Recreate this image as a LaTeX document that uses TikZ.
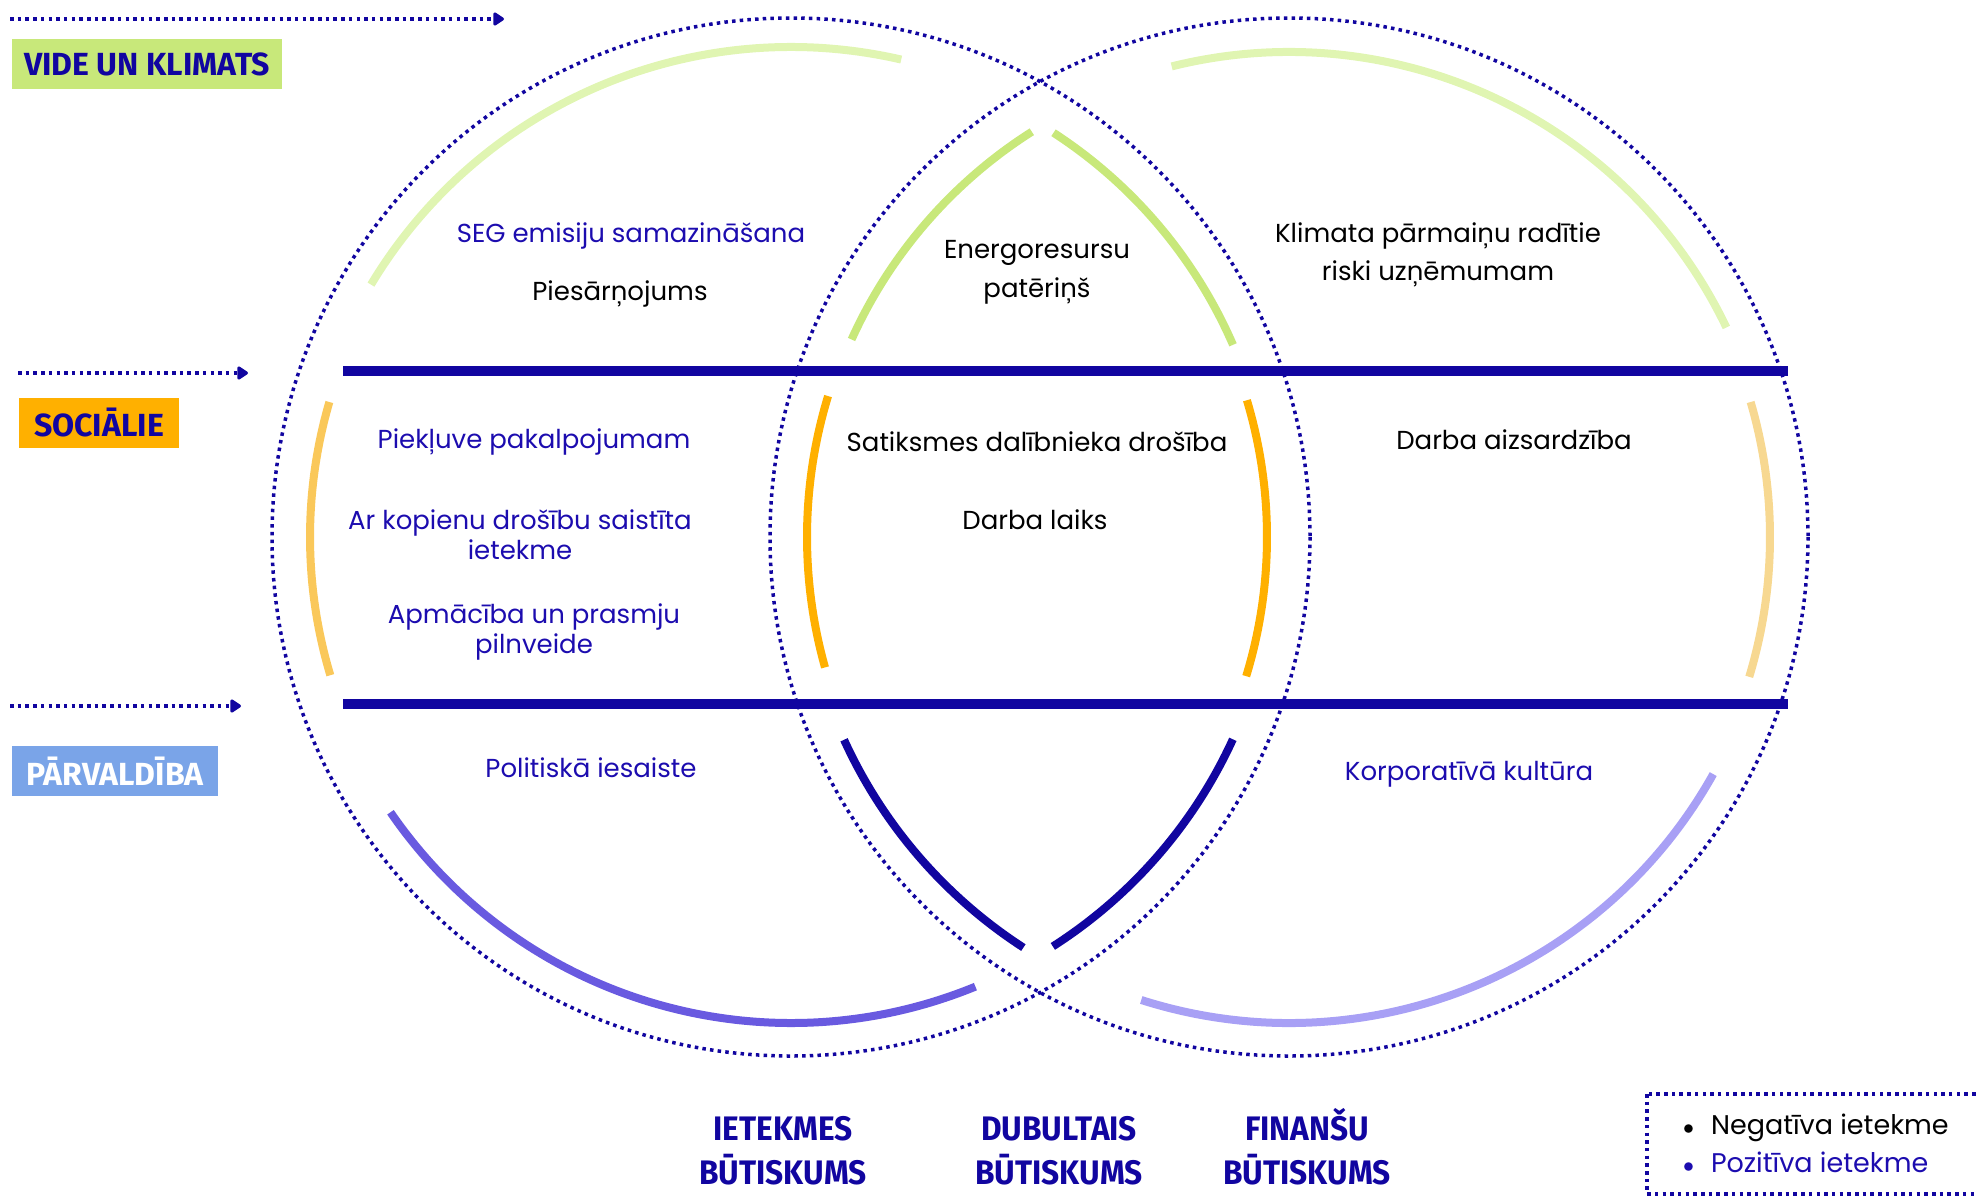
\documentclass[tikz,border=0pt]{standalone}
\usepackage{fontspec}
\setmainfont{Poppins}
\newfontfamily\headfont{Fira Sans}
\newfontfamily\footfont[FakeStretch=0.93]{Fira Sans}
\usetikzlibrary{arrows.meta}
\definecolor{navy}{RGB}{17,5,160}
\definecolor{textblue}{RGB}{28,12,175}
\definecolor{palegreen}{RGB}{224,245,178}
\definecolor{limegreen}{RGB}{200,232,122}
\definecolor{amber}{RGB}{255,176,0}
\definecolor{paleamber}{RGB}{250,200,90}
\definecolor{sandamber}{RGB}{247,216,145}
\definecolor{iris}{RGB}{105,90,224}
\definecolor{paleiris}{RGB}{168,160,245}
\definecolor{skyblue}{RGB}{122,164,232}

\begin{document}
\begin{tikzpicture}[x=0.5pt,y=-0.5pt,
  dots/.style={navy,line width=1.75pt,dash pattern=on 1.75pt off 2.1pt},
  pointer/.style={dots,-{Triangle[length=6pt,width=7.5pt,round]}},
  band/.style={line width=4pt},
  bar/.style={navy,line width=5pt},
  tag/.style={font=\headfont\bfseries\fontsize{16}{16}\selectfont,inner sep=0pt,minimum height=25pt},
  item/.style={font=\fontsize{13}{15}\selectfont,align=center},
  goodfx/.style={item,textblue},
  badfx/.style={item,black},
  footer/.style={font=\footfont\bfseries\fontsize{17}{22}\selectfont,navy,align=center,anchor=base}]
\useasboundingbox (0,0) rectangle (1976,1195);

\coordinate (L) at (791,537);
\coordinate (R) at (1289,537);
\draw[dots] (L) circle[radius=519];
\draw[dots] (R) circle[radius=519];

\foreach \c/\a/\b/\r/\col in {
    L/-77/-149/490/palegreen, L/-163.7/-196.7/481/paleamber, L/-214.5/-292.3/486/iris,
    L/-23.5/-57/482/limegreen, L/17/-16.7/476/amber, L/57.4/24.6/486/navy,
    R/-25.6/-104/485/palegreen, R/16.9/-16.3/481/sandamber, R/107.7/29.2/486/paleiris,
    R/-122.4/-155.7/480/limegreen, R/-163/-195.7/482/amber, R/-204.5/-237.1/489/navy}
  \draw[band,\col] (\c) ++(\a:\r) arc[start angle=\a,end angle=\b,radius=\r];

\coordinate (bar1w) at (343,371);
\coordinate (bar1e) at (1788,371);
\coordinate (bar2w) at (343,704);
\coordinate (bar2e) at (1788,704);
\draw[bar] (bar1w) -- (bar1e);
\draw[bar] (bar2w) -- (bar2e);

\coordinate (env0) at (10,19);
\coordinate (env1) at (504,19);
\coordinate (soc0) at (18,373);
\coordinate (soc1) at (248,373);
\coordinate (gov0) at (10,706);
\coordinate (gov1) at (241,706);
\draw[pointer] (env0) -- (env1);
\draw[pointer] (soc0) -- (soc1);
\draw[pointer] (gov0) -- (gov1);

\node[tag,fill=limegreen,text=navy,minimum width=135pt] (env) at (147,64) {VIDE UN KLIMATS};
\node[tag,fill=amber,text=navy,minimum width=80pt] (soc) at (99,423) {SOCIĀLIE};
\node[tag,fill=skyblue,text=white,minimum width=103pt] (gov) at (115,771) {PĀRVALDĪBA};

\node[goodfx] (seg) at (631,236) {SEG emisiju samazināšana};
\node[badfx] (pies) at (620,294) {Piesārņojums};
\node[badfx,font=\fontsize{13}{19.5}\selectfont] (energo) at (1037,272) {Energoresursu\\patēriņš};
\node[badfx,font=\fontsize{13}{19}\selectfont] (klimats) at (1438,255) {Klimata pārmaiņu radītie\\riski uzņēmumam};
\node[goodfx] (pieklu) at (534,442) {Piekļuve pakalpojumam};
\node[goodfx] (kopiena) at (520,535) {Ar kopienu drošību saistīta\\ietekme};
\node[goodfx] (apmac) at (534,632) {Apmācība un prasmju\\pilnveide};
\node[badfx] (satiks) at (1037,442) {Satiksmes dalībnieka drošība};
\node[badfx] (laiks) at (1035,520) {Darba laiks};
\node[badfx] (aizsar) at (1514,440) {Darba aizsardzība};
\node[goodfx] (polit) at (591,768) {Politiskā iesaiste};
\node[goodfx] (kultur) at (1469,774) {Korporatīvā kultūra};

\node[footer] (ietek) at (783,1184) {IETEKMES\\BŪTISKUMS};
\node[footer] (dubult) at (1059,1184) {DUBULTAIS\\BŪTISKUMS};
\node[footer] (finans) at (1307,1184) {FINANŠU\\BŪTISKUMS};

\draw[dots] (1647,1094) rectangle (2000,1194);
\node[item,font=\fontsize{13.5}{15}\selectfont,anchor=west] (legneg) at (1676,1128) {{\fontsize{11}{11}\selectfont$\bullet$}\hspace{8.5pt}Negatīva ietekme};
\node[item,font=\fontsize{13.5}{15}\selectfont,anchor=west,textblue] (legpos) at (1676,1162) {{\fontsize{11}{11}\selectfont$\bullet$}\hspace{8.5pt}Pozitīva ietekme};
\end{tikzpicture}
\end{document}
